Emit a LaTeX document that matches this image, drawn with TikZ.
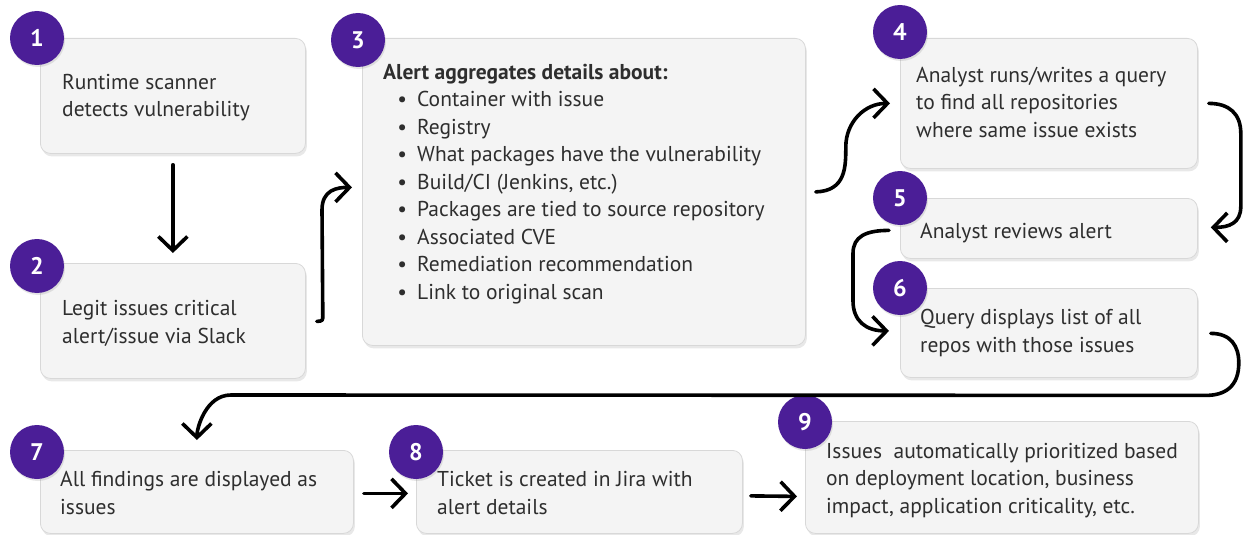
\documentclass[tikz,border=0pt]{standalone}
\usepackage{fontspec}
\setmainfont{PT Sans}
\usetikzlibrary{arrows.meta,shadows,calc}
\definecolor{badgecol}{HTML}{4B1E97}
\definecolor{boxfill}{HTML}{F4F4F4}
\definecolor{boxline}{HTML}{D8D8D8}
\definecolor{txt}{HTML}{2E2E2E}
\tikzset{
  stepbox/.style={draw=boxline, fill=boxfill, rounded corners=10pt, line width=0.8pt,
    inner sep=0pt, anchor=north west,
    drop shadow={opacity=0.18, shadow xshift=1.5pt, shadow yshift=-3pt}},
  badge/.style={circle, fill=badgecol, minimum size=54pt, inner sep=0pt, text=white,
    font=\fontsize{24}{24}\selectfont\bfseries,
    drop shadow={opacity=0.2, shadow xshift=1pt, shadow yshift=-2pt}},
  lbl/.style={anchor=base west, inner sep=0pt, text=txt, align=left,
    font=\fontsize{21.5}{27.5}\selectfont},
  flow/.style={line width=3.6pt, line cap=round, line join=round,
    -{Straight Barb[length=14pt,width=29pt,line width=3.6pt]}},
}
\begin{document}
\begin{tikzpicture}[x=1pt,y=-1pt]
\useasboundingbox (0,0) rectangle (1243,535);
% boxes
\node[stepbox, minimum width=265pt, minimum height=115pt] (b1) at (40,38) {};
\node[stepbox, minimum width=265pt, minimum height=115pt] (b2) at (40,263) {};
\node[stepbox, minimum width=443pt, minimum height=307pt] (b3) at (362,38) {};
\node[stepbox, minimum width=297pt, minimum height=130pt] (b4) at (900,38) {};
\node[stepbox, minimum width=297pt, minimum height=60pt] (b5) at (900,198) {};
\node[stepbox, minimum width=297pt, minimum height=89pt] (b6) at (900,288) {};
\node[stepbox, minimum width=313pt, minimum height=83pt] (b7) at (40,450) {};
\node[stepbox, minimum width=326pt, minimum height=83pt] (b8) at (416,450) {};
\node[stepbox, minimum width=393pt, minimum height=112pt] (b9) at (805,421) {};
% texts (anchor = baseline of the last line)
\node[lbl] (t1) at (62,117) {Runtime scanner\\detects vulnerability};
\node[lbl] (t2) at (62,343) {Legit issues critical\\alert/issue via Slack};
\node[lbl] (t3) at (383,299) {\textbf{Alert aggregates details about:}\\
\hspace*{34pt}\llap{•\hspace{10pt}}Container with issue\\
\hspace*{34pt}\llap{•\hspace{10pt}}Registry\\
\hspace*{34pt}\llap{•\hspace{10pt}}What packages have the vulnerability\\
\hspace*{34pt}\llap{•\hspace{10pt}}Build/CI (Jenkins, etc.)\\
\hspace*{34pt}\llap{•\hspace{10pt}}Packages are tied to source repository\\
\hspace*{34pt}\llap{•\hspace{10pt}}Associated CVE\\
\hspace*{34pt}\llap{•\hspace{10pt}}Remediation recommendation\\
\hspace*{34pt}\llap{•\hspace{10pt}}Link to original scan};
\node[lbl] (t4) at (916,137) {Analyst runs/writes a query\\to find all repositories\\where same issue exists};
\node[lbl] (t5) at (920,238) {Analyst reviews alert};
\node[lbl] (t6) at (920,352) {Query displays list of all\\repos with those issues};
\node[lbl] (t7) at (60,514) {All findings are displayed as\\issues};
\node[lbl] (t8) at (437,514) {Ticket is created in Jira with\\alert details};
\node[lbl] (t9) at (826,513) {Issues\ \ automatically prioritized based\\on deployment location, business\\impact, application criticality, etc.};
% badges
\node[badge] (n1) at (37,38) {1};
\node[badge] (n2) at (37,266) {2};
\node[badge] (n3) at (358,40) {3};
\node[badge] (n4) at (900,32) {4};
\node[badge] (n5) at (900,198) {5};
\node[badge] (n6) at (900,288) {6};
\node[badge] (n7) at (37,452) {7};
\node[badge] (n8) at (416,452) {8};
\node[badge] (n9) at (805,422) {9};
% connectors
\draw[flow] ($(b1.south)+(0,11)$) -- ($(b2.north)+(0,-10)$);
\draw[flow] ($(b2.east)+(11,0.5)$) .. controls +(6,0) and +(0,4) .. ($(b2.east)+(17,-5)$)
  -- ($(b3.west)+(-40,18)$) .. controls +(0,-20) and +(-15,0) .. ($(b3.west)+(-10,-4.5)$);
\draw[flow] ($(b3.east)+(10,0)$) .. controls +(30,-1) and +(0,20) .. ($(b3.east)+(40,-45)$)
  .. controls +(0,-25) and +(-25,0) .. ($(b4.west)+(-10,0)$);
\draw[flow] ($(b4.east)+(11,0)$) .. controls +(20,0) and +(0,-20) .. ($(b4.east)+(43,30)$)
  -- ($(b5.east)+(43,-22)$) .. controls +(0,17) and +(18,0) .. ($(b5.east)+(13,-1)$);
\draw[flow] ($(b5.west)+(-11,2)$) .. controls +(-23,0) and +(0,-17) .. ($(b5.west)+(-47,25)$)
  -- ($(b6.west)+(-47,-32)$) .. controls +(0,20) and +(-23,0) .. ($(b6.west)+(-11,-2)$);
\draw[flow] ($(b6.east)+(13,0.5)$) .. controls +(20,0) and +(0,-17) .. ($(b6.east)+(41,30)$)
  .. controls +(0,23) and +(20,0) .. ($(b6.east)+(8,62.5)$)
  -- ($(b7.north)+(34,-55)$) .. controls +(-25,0) and +(0,-12) .. ($(b7.north)+(0,-10)$);
\draw[flow] ($(b7.east)+(10,1.5)$) -- ($(b8.west)+(-8,1.5)$);
\draw[flow] ($(b8.east)+(8,4)$) -- ($(b9.west)+(-8,19)$);
\end{tikzpicture}
\end{document}
